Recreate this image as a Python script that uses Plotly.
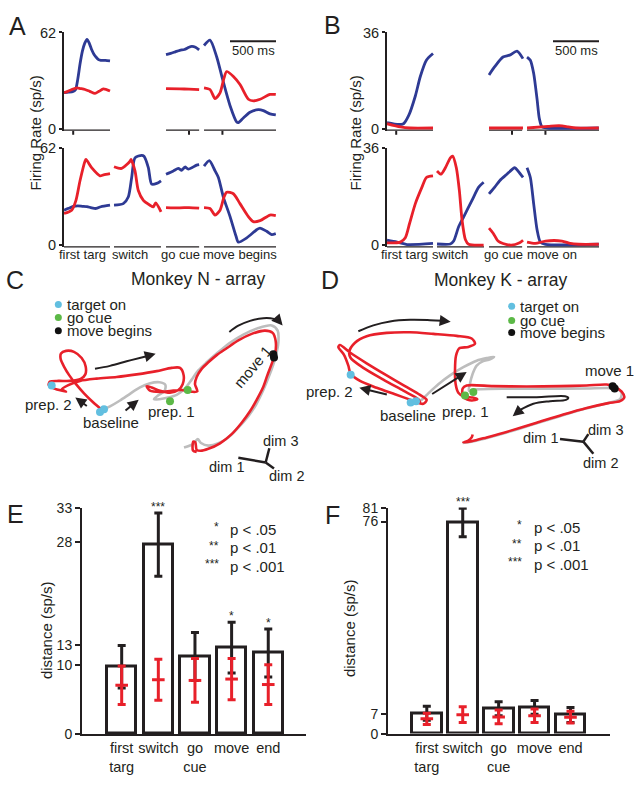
import plotly.graph_objects as go

W, H = 643, 786
FONT = "Liberation Sans, Arial, Helvetica, sans-serif"
INK = "#231f20"
BLUE = "#2e3a94"
RED = "#e8202a"
GRAY = "#bdbdbd"
CYAN = "#62bfe0"
GREEN = "#5cb947"

# ---------------- Panel A / B firing rates: (time ms re event, rate sp/s) ----------------
A_TOP_TARG_BLUE = [(-100, 23.2), (-50, 23.5), (0, 24), (25, 25), (50, 32), (75, 42), (100, 50), (125, 55), (150, 57.5),
                   (175, 55), (200, 51), (225, 48), (250, 46), (275, 44.5), (300, 44), (350, 44), (400, 43.7)]
A_TOP_TARG_RED = [(-100, 23.1), (-60, 24), (-20, 25), (38, 26.3), (80, 25.8), (128, 25.2), (180, 24), (237, 22.7),
                  (280, 24), (328, 25.6), (400, 24.2)]
A_TOP_GO_BLUE = [(-250, 47.7), (-200, 48.5), (-150, 49.5), (-100, 50.5), (-50, 51), (0, 52.5), (30, 53), (70, 52.5), (110, 50.8)]
A_TOP_GO_RED = [(-250, 25.8), (-100, 25.6), (0, 25.4), (110, 25.1)]
A_TOP_MOVE_BLUE = [(-200, 53.6), (-135, 57), (-62, 46.2), (3, 31.5), (83, 14.7), (155, 4.2), (173, 3.8), (230, 7),
                   (300, 10.5), (391, 12.2), (445, 11.6), (517, 9.5), (580, 8.8)]
A_TOP_MOVE_RED = [(-200, 26.3), (-135, 25.2), (-80, 19.3), (-26, 23), (17, 32.6), (46, 36.8), (119, 33.6), (191, 28.4),
                  (282, 18.9), (336, 17.9), (409, 18.9), (517, 22), (580, 22)]

A_BOT_TARG_BLUE = [(-100, 22.3), (-50, 23.5), (0, 24.8), (50, 25), (100, 24.8), (150, 24.6), (200, 23.8), (250, 23.4),
                   (300, 24.5), (400, 25.5)]
A_BOT_TARG_RED = [(-100, 20.2), (-17, 22.3), (30, 28.6), (74, 41.1), (128, 53.6), (139, 54.7), (200, 49.5), (291, 44.3),
                  (330, 44.9), (400, 45.7)]
A_BOT_SWITCH_BLUE = [(-200, 25.5), (-99, 26.5), (-45, 30.7), (-8, 43.2), (28, 55.8), (101, 57.4), (126, 56.8), (173, 49.5),
                     (209, 39), (264, 39.4), (311, 41.1)]
A_BOT_SWITCH_RED = [(-200, 50.1), (-117, 49), (-26, 53.6), (-15, 54.7), (28, 47.4), (64, 34.9), (119, 28.6), (191, 25.5),
                    (227, 24.4), (253, 26.9), (311, 21.3)]
A_BOT_GO_BLUE = [(-250, 45.3), (-170, 47.4), (-116, 49), (-80, 47.8), (-44, 49.9), (-8, 48.5), (82, 51.1), (110, 51.5)]
A_BOT_GO_RED = [(-250, 24), (-100, 23.8), (0, 24), (110, 23.6)]
A_BOT_MOVE_BLUE = [(-200, 50.5), (-142, 54), (-80, 47.4), (-44, 43.2), (10, 30.7), (83, 18.2), (148, 5.6), (173, 1.9),
                   (264, 4.6), (372, 9.8), (408, 10.9), (481, 8.8), (535, 6.7), (580, 7.3)]
A_BOT_MOVE_RED = [(-200, 24), (-135, 23.4), (-80, 19.2), (-26, 22.3), (17, 30.7), (46, 33.8), (119, 32.8), (191, 26.5),
                  (282, 18.2), (336, 15), (409, 15.6), (517, 19.2), (580, 18.8)]

B_TOP_TARG_BLUE = [(-100, 2.2), (27, 1.5), (80, 1.8), (136, 4.9), (208, 12.2), (262, 19.5), (328, 25.6), (400, 28.1)]
B_TOP_TARG_RED = [(-100, 1.8), (45, 0.6), (150, 0.2), (400, 0.2)]
B_TOP_GO_BLUE = [(-250, 20.1), (-188, 23.2), (-98, 26.8), (-26, 27.5), (54, 29), (119, 26.2)]
B_TOP_GO_RED = [(-250, 0.2), (119, 0.2)]
B_TOP_MOVE_BLUE = [(-200, 26.8), (-164, 25.6), (-128, 20.7), (-91, 11), (-66, 3.7), (-37, 0.6), (20, 0.2), (580, 0.2)]
B_TOP_MOVE_RED = [(-200, 0.2), (30, 0.8), (100, 1.0), (180, 1.0), (250, 0.6), (330, 0.2), (580, 0.2)]

B_BOT_TARG_BLUE = [(-100, 1.8), (9, 1.1), (118, 0.2), (400, 0.6)]
B_BOT_TARG_RED = [(-100, 0.8), (45, 1.1), (99, 2.7), (146, 8.1), (208, 15.4), (280, 21.5), (328, 25.1), (400, 25.7)]
B_BOT_SWITCH_BLUE = [(-200, 0.4), (-55, 0.4), (-19, 1.5), (36, 6.9), (90, 10.5), (180, 16.6), (253, 21.5), (307, 23.3)]
B_BOT_SWITCH_RED = [(-200, 27.5), (-157, 26.3), (-109, 28.7), (-55, 32.4), (-30, 33), (10, 28.7), (43, 20.2), (72, 9.3),
                    (108, 2.1), (144, 0.3), (307, 0)]
B_BOT_GO_BLUE = [(-250, 19), (-188, 21.5), (-134, 23.9), (-62, 26.1), (29, 28.7), (65, 27.5), (120, 25.1)]
B_BOT_GO_RED = [(-250, 6.3), (-207, 4.5), (-152, 1.5), (-98, 0.6), (-8, 0), (83, 0.9), (120, 1.8)]
B_BOT_MOVE_BLUE = [(-200, 28.7), (-164, 25.1), (-128, 15.4), (-91, 5.7), (-55, 1.1), (0, 0.3), (580, 0.3)]
B_BOT_MOVE_RED = [(-200, 1.1), (-110, 0.6), (0, 1.5), (180, 1.5), (270, 0.6), (360, 0.3), (580, 0.3)]

A_SEG_LABELS = ["first targ", "switch", "go cue", "move begins"]
B_SEG_LABELS = ["first targ", "switch", "go cue", "move on"]
A_YMAX = 62
B_YMAX = 36

# ---------------- Panels C / D: projected trajectories (projection units) ----------------
C_RED = [(305, 450), (280, 428), (252, 400), (228, 372), (208, 345), (192, 318), (182, 295), (183, 278), (198, 270),
         (222, 273), (245, 292), (257, 318), (256, 342), (242, 356), (210, 362), (175, 362), (150, 364), (146, 374),
         (158, 383), (178, 390), (198, 395), (185, 388), (205, 375), (240, 362), (290, 355), (350, 350), (410, 342),
         (470, 332), (515, 322), (540, 322), (551, 345), (548, 372), (535, 390), (510, 398), (480, 392), (455, 382),
         (440, 378), (450, 392), (480, 396), (515, 392), (545, 390), (575, 395), (592, 394), (585, 372), (590, 350),
         (605, 325), (625, 305), (650, 283), (680, 262), (715, 238), (755, 218), (795, 208), (818, 215), (827, 240),
         (826, 275), (815, 310), (802, 345), (790, 380), (770, 420), (750, 455), (725, 490), (695, 525), (660, 553),
         (625, 570), (602, 576), (590, 573), (586, 550), (580, 548), (579, 575), (590, 580)]
C_GRAY = [(300, 455), (330, 440), (360, 422), (392, 400), (420, 382), (448, 370), (478, 366), (496, 374), (494, 392),
          (475, 406), (462, 418), (478, 418), (505, 413), (530, 405), (555, 385), (575, 358), (595, 330), (620, 305),
          (650, 278), (690, 245), (730, 220), (775, 200), (815, 192), (833, 208), (835, 245), (825, 295), (808, 345),
          (790, 390), (768, 435), (745, 470), (715, 505), (685, 535), (655, 553), (625, 560), (603, 552), (593, 540),
          (580, 555), (552, 566)]
C_TARGET_ON = [(155, 376), (300, 457), (312, 449)]
C_GO_CUE = [(510, 424), (563, 390)]
C_MOVE = [(820, 280), (822, 290)]

D_RED = [(282, 425), (310, 432), (320, 420), (300, 405), (255, 378), (200, 345), (140, 308), (90, 275), (60, 252),
         (55, 258), (72, 282), (85, 315), (92, 340), (120, 362), (170, 383), (225, 403), (272, 420), (300, 430),
         (295, 418), (250, 392), (190, 358), (130, 322), (92, 292), (88, 272), (105, 245), (140, 225), (200, 215),
         (270, 213), (340, 218), (410, 224), (455, 232), (465, 248), (445, 258), (418, 262), (408, 285), (405, 330),
         (407, 372), (415, 398), (432, 410), (458, 413), (472, 418), (455, 422), (430, 412), (428, 385), (440, 376),
         (520, 378), (620, 379), (720, 378), (800, 376), (860, 373), (885, 380), (905, 395), (913, 412), (900, 424),
         (865, 430), (800, 445), (730, 465), (650, 490), (570, 515), (500, 535), (455, 547), (430, 550), (445, 545),
         (455, 535), (458, 526)]
D_GRAY = [(285, 428), (305, 420), (325, 400), (355, 372), (390, 345), (430, 320), (470, 300), (500, 292), (522, 288),
          (510, 296), (488, 302), (470, 315), (458, 340), (450, 370), (447, 392), (470, 388), (560, 386), (680, 386),
          (800, 385), (870, 384), (895, 388), (905, 400), (900, 418), (870, 428), (800, 446), (720, 470), (640, 495),
          (560, 520), (490, 540), (445, 550), (428, 552)]
D_TARGET_ON = [(92, 343), (272, 428), (288, 424)]
D_GO_CUE = [(435, 407), (460, 396)]
D_MOVE = [(878, 378), (884, 385)]

LEGEND_LABELS = ["target on", "go cue", "move begins"]

# ---------------- Panels E / F: distance (sp/s) ----------------
CATEGORIES = ["first<br>targ", "switch", "go<br>cue", "move", "end"]
E_BAR = [9.8, 27.6, 11.3, 12.6, 11.8]
E_BAR_ERR = [3.1, 4.6, 3.5, 3.7, 3.5]
E_RED = [7.1, 7.9, 7.8, 8.0, 7.2]
E_RED_ERR = [2.8, 3.0, 3.2, 3.0, 2.9]
E_STARS = ["", "***", "", "*", "*"]
E_TICKS = [0, 10, 13, 28, 33]

F_BAR = [7.3, 75.7, 8.9, 9.4, 6.7]
F_BAR_ERR = [2.5, 5.1, 2.5, 2.5, 2.7]
F_RED = [5.3, 6.8, 6.0, 6.4, 5.9]
F_RED_ERR = [2.0, 2.8, 2.5, 2.4, 2.1]
F_STARS = ["", "***", "", "", ""]
F_TICKS = [0, 7, 76, 81]

SIG_STARS = ["*", "**", "***"]
SIG_TEXT = ["p < .05", "p < .01", "p < .001"]

# =====================================================================
fig = go.Figure()
annotations = []
shapes = []


def pxx(x):
    return x / W


def pxy(y):
    return 1 - y / H


def xdom(a, b):
    return [a / W, b / W]


def ydom(top, bottom):
    return [1 - bottom / H, 1 - top / H]


def text(x, y, s, size=14, xanchor="center", yanchor="middle", angle=0, xref="paper", yref="paper", color=INK):
    if xref == "paper":
        x = pxx(x)
    if yref == "paper":
        y = pxy(y)
    annotations.append(dict(x=x, y=y, xref=xref, yref=yref, text=s, showarrow=False, borderpad=0,
                            font=dict(size=size, color=color, family=FONT),
                            xanchor=xanchor, yanchor=yanchor, textangle=angle))


def arrow(ax_name, ay_name, x0, y0, x1, y1):
    annotations.append(dict(x=x1, y=y1, ax=x0, ay=y0, xref=ax_name, yref=ay_name, axref=ax_name, ayref=ay_name,
                            showarrow=True, arrowhead=2, arrowsize=1.1, arrowwidth=2, arrowcolor=INK, text=""))


layout_axes = {}

# ---------- time-series panels ----------
SEG_OFF = {"targ": 100, "switch": 743.5, "go": 1358.7, "move": 1721.8}
SEG_SPAN = {"targ": (0, 500), "switch": (543.5, 1054), "go": (1108.7, 1468.7), "move": (1521.8, 2304)}
SEG_ORDER = ["targ", "switch", "go", "move"]
XRANGE = [0, 2304]

ts_panels = [
    (1, (64, 276), (25, 125.4), A_YMAX,
     [("targ", A_TOP_TARG_BLUE, A_TOP_TARG_RED), ("go", A_TOP_GO_BLUE, A_TOP_GO_RED),
      ("move", A_TOP_MOVE_BLUE, A_TOP_MOVE_RED)], ["targ", "go", "move"], ["targ", "go", "move"]),
    (2, (64, 276), (143, 244.4), A_YMAX,
     [("targ", A_BOT_TARG_BLUE, A_BOT_TARG_RED), ("switch", A_BOT_SWITCH_BLUE, A_BOT_SWITCH_RED),
      ("go", A_BOT_GO_BLUE, A_BOT_GO_RED), ("move", A_BOT_MOVE_BLUE, A_BOT_MOVE_RED)], SEG_ORDER, []),
    (3, (387, 599), (25, 125.4), B_YMAX,
     [("targ", B_TOP_TARG_BLUE, B_TOP_TARG_RED), ("go", B_TOP_GO_BLUE, B_TOP_GO_RED),
      ("move", B_TOP_MOVE_BLUE, B_TOP_MOVE_RED)], ["targ", "go", "move"], ["targ", "go", "move"]),
    (4, (387, 599), (143, 244.4), B_YMAX,
     [("targ", B_BOT_TARG_BLUE, B_BOT_TARG_RED), ("switch", B_BOT_SWITCH_BLUE, B_BOT_SWITCH_RED),
      ("go", B_BOT_GO_BLUE, B_BOT_GO_RED), ("move", B_BOT_MOVE_BLUE, B_BOT_MOVE_RED)], SEG_ORDER, []),
]

for idx, (xa, xb), (ya, yb), ymax, series, base_segs, tick_segs in ts_panels:
    sfx = "" if idx == 1 else str(idx)
    ymin = -ymax * 0.0242
    layout_axes["xaxis" + sfx] = dict(domain=xdom(xa, xb), range=XRANGE, visible=False, anchor="y" + sfx,
                                      fixedrange=True)
    layout_axes["yaxis" + sfx] = dict(domain=ydom(ya, yb), range=[ymin, ymax], anchor="x" + sfx,
                                      showline=True, linecolor=INK, linewidth=2, ticks="outside", ticklen=3,
                                      tickwidth=2, tickcolor=INK, tickvals=[0, ymax], showgrid=False,
                                      zeroline=False, tickfont=dict(size=14.5, family=FONT, color=INK),
                                      fixedrange=True)
    for seg, blue, red in series:
        for pairs, col in ((blue, BLUE), (red, RED)):
            fig.add_trace(go.Scatter(x=[t + SEG_OFF[seg] for t, _ in pairs], y=[v for _, v in pairs],
                                     mode="lines", line=dict(color=col, width=2.8, shape="spline", smoothing=0.7),
                                     xaxis="x" + sfx, yaxis="y" + sfx, hoverinfo="skip", showlegend=False))
    for seg in base_segs:
        s0, s1 = SEG_SPAN[seg]
        shapes.append(dict(type="line", xref="x" + sfx, yref="y" + sfx, x0=s0, x1=s1, y0=ymin, y1=ymin,
                           line=dict(color=INK, width=2.5), layer="below"))
    for seg in tick_segs:
        shapes.append(dict(type="line", xref="x" + sfx, yref="paper", x0=SEG_OFF[seg], x1=SEG_OFF[seg],
                           y0=pxy(yb), y1=pxy(yb + 4), line=dict(color=INK, width=2)))

A_LABEL_X = [205, 718, 1270, 1913]
B_LABEL_X = [185, 685, 1261, 1794]
for lab, xv in zip(A_SEG_LABELS, A_LABEL_X):
    text(xv, 252, lab, size=13, xref="x2")
for lab, xv in zip(B_SEG_LABELS, B_LABEL_X):
    text(xv, 252, lab, size=13, xref="x4")

for x0 in (230, 553):
    shapes.append(dict(type="line", xref="paper", yref="paper", x0=pxx(x0), x1=pxx(x0 + 46), y0=pxy(34), y1=pxy(34),
                       line=dict(color=INK, width=2)))
    text(x0 + 23, 43, "500 ms", size=13)

text(35, 128, "Firing Rate (sp/s)", size=15, angle=-90)
text(355, 128, "Firing Rate (sp/s)", size=15, angle=-90)

# ---------- trajectory panels ----------
traj_panels = [
    (5, (0, 320), (0, 960), C_RED, C_GRAY, C_TARGET_ON, C_GO_CUE, C_MOVE),
    (6, (320, 643), (0, 969), D_RED, D_GRAY, D_TARGET_ON, D_GO_CUE, D_MOVE),
]
for idx, (xa, xb), xr, red, gray, ton, goc, mv in traj_panels:
    sfx = str(idx)
    layout_axes["xaxis" + sfx] = dict(domain=xdom(xa, xb), range=list(xr), visible=False, anchor="y" + sfx,
                                      fixedrange=True)
    layout_axes["yaxis" + sfx] = dict(domain=ydom(260, 500), range=[720, 0], visible=False, anchor="x" + sfx,
                                      fixedrange=True)
    for pts, col in ((gray, GRAY), (red, RED)):
        fig.add_trace(go.Scatter(x=[p[0] for p in pts], y=[p[1] for p in pts], mode="lines",
                                 line=dict(color=col, width=2.6, shape="spline", smoothing=0.8),
                                 xaxis="x" + sfx, yaxis="y" + sfx, hoverinfo="skip", showlegend=False))
    for pts, col in ((ton, CYAN), (goc, GREEN), (mv, "#111111")):
        fig.add_trace(go.Scatter(x=[p[0] for p in pts], y=[p[1] for p in pts], mode="markers",
                                 marker=dict(color=col, size=8), xaxis="x" + sfx, yaxis="y" + sfx,
                                 hoverinfo="skip", showlegend=False))

for sfx, lx, ly in (("5", 175, [128, 168, 208]), ("6", 575, [133, 177, 214])):
    fig.add_trace(go.Scatter(x=[lx] * 3, y=ly, mode="markers",
                             marker=dict(color=[CYAN, GREEN, "#111111"], size=7),
                             xaxis="x" + sfx, yaxis="y" + sfx, hoverinfo="skip", showlegend=False))
    for lab, yy in zip(LEGEND_LABELS, ly):
        text(lx + 22, yy, lab, size=15, xanchor="left", xref="x" + sfx, yref="y" + sfx)

CURVES = [
    ("5", [(285, 325), (330, 316), (380, 302), (425, 290), (445, 285)], (445, 285), (467, 279)),
    ("5", [(688, 212), (715, 193), (750, 178), (790, 170), (822, 172), (836, 178)], (836, 178), (848, 192)),
    ("6", [(115, 210), (160, 192), (210, 180), (270, 175), (330, 176), (368, 178)], (368, 178), (392, 181)),
    ("6", [(560, 412), (650, 412), (735, 409), (745, 414), (738, 420), (690, 424), (640, 432), (602, 450)],
     (602, 450), (578, 470)),
]
for sfx, pts, a0, a1 in CURVES:
    fig.add_trace(go.Scatter(x=[p[0] for p in pts], y=[p[1] for p in pts], mode="lines",
                             line=dict(color=INK, width=2, shape="spline"), xaxis="x" + sfx, yaxis="y" + sfx,
                             hoverinfo="skip", showlegend=False))
    arrow("x" + sfx, "y" + sfx, a0[0], a0[1], a1[0], a1[1])

arrow("x5", "y5", 265, 442, 226, 413)
arrow("x5", "y5", 372, 456, 416, 420)
arrow("x6", "y6", 205, 405, 118, 383)
arrow("x6", "y6", 332, 405, 440, 335)

for sfx, c, e1, e3, e2 in (("5", (797, 612), (715, 597), (808, 568), (822, 630)),
                           ("6", (790, 548), (720, 540), (805, 525), (820, 585))):
    xs, ys = [], []
    for e in (e1, e3, e2):
        xs += [c[0], e[0], None]
        ys += [c[1], e[1], None]
    fig.add_trace(go.Scatter(x=xs, y=ys, mode="lines", line=dict(color=INK, width=2.5),
                             xaxis="x" + sfx, yaxis="y" + sfx, hoverinfo="skip", showlegend=False))

text(680, 625, "dim 1", size=14.5, xref="x5", yref="y5")
text(840, 545, "dim 3", size=14.5, xref="x5", yref="y5")
text(860, 652, "dim 2", size=14.5, xref="x5", yref="y5")
text(660, 537, "dim 1", size=14.5, xref="x6", yref="y6")
text(855, 512, "dim 3", size=14.5, xref="x6", yref="y6")
text(840, 612, "dim 2", size=14.5, xref="x6", yref="y6")

text(145, 435, "prep. 2", size=15, xref="x5", yref="y5")
text(333, 490, "baseline", size=15, xref="x5", yref="y5")
text(515, 455, "prep. 1", size=15, xref="x5", yref="y5")
text(758, 318, "move 1", size=15, angle=-50, xref="x5", yref="y5")
text(27, 393, "prep. 2", size=15, xref="x6", yref="y6")
text(265, 468, "baseline", size=15, xref="x6", yref="y6")
text(435, 455, "prep. 1", size=15, xref="x6", yref="y6")
text(945, 330, "move 1", size=15, xanchor="right", xref="x6", yref="y6")

text(198, 277, "Monkey N - array", size=17.5)
text(500, 278, "Monkey K - array", size=17.5)

# ---------- bar panels ----------
bar_panels = [
    (7, (82, 306), (510, 741), 33, [-1.083, 5.03], E_BAR, E_BAR_ERR, E_RED, E_RED_ERR, E_STARS, E_TICKS, 0.8),
    (8, (388, 610), (510, 740.7), 81, [-1.08, 5.1], F_BAR, F_BAR_ERR, F_RED, F_RED_ERR, F_STARS, F_TICKS, 0.83),
]
xs5 = list(range(len(CATEGORIES)))
for idx, (xa, xb), (ya, yb), ymax, xr, bar, berr, red, rerr, stars, ticks, bw in bar_panels:
    sfx = str(idx)
    layout_axes["xaxis" + sfx] = dict(domain=xdom(xa, xb), range=xr, anchor="y" + sfx, showline=True,
                                      linecolor=INK, linewidth=2, tickvals=xs5, ticktext=CATEGORIES, ticks="",
                                      showgrid=False, zeroline=False, fixedrange=True,
                                      tickfont=dict(size=14.5, family=FONT, color=INK))
    layout_axes["yaxis" + sfx] = dict(domain=ydom(ya, yb), range=[0, ymax], anchor="x" + sfx, showline=True,
                                      linecolor=INK, linewidth=2, tickvals=ticks, ticks="outside", ticklen=5,
                                      tickwidth=2, tickcolor=INK, showgrid=False, zeroline=False, fixedrange=True,
                                      tickfont=dict(size=14, family=FONT, color=INK))
    fig.add_trace(go.Bar(x=xs5, y=bar, width=bw, marker=dict(color="white", line=dict(color=INK, width=3)),
                         error_y=dict(type="data", array=berr, color=INK, thickness=3, width=4),
                         xaxis="x" + sfx, yaxis="y" + sfx, hoverinfo="skip", showlegend=False))
    fig.add_trace(go.Scatter(x=xs5, y=red, mode="markers",
                             marker=dict(symbol="line-ew", size=9, line=dict(color=RED, width=3), color=RED),
                             error_y=dict(type="data", array=rerr, color=RED, thickness=3, width=4),
                             xaxis="x" + sfx, yaxis="y" + sfx, hoverinfo="skip", showlegend=False))
    for i, s in enumerate(stars):
        if s:
            annotations.append(dict(x=i, y=bar[i] + berr[i], xref="x" + sfx, yref="y" + sfx, text=s,
                                    showarrow=False, yanchor="bottom", yshift=-2, borderpad=0,
                                    font=dict(size=12, family=FONT, color=INK)))

for (sx, tx, ys) in ((220, 229, [532, 551, 570]), (523, 533, [530, 549, 568])):
    for st, tt, yy in zip(SIG_STARS, SIG_TEXT, ys):
        text(sx, yy - 2, st, size=12, xanchor="right")
        text(tx, yy, tt, size=15, xanchor="left")

text(46, 635, "distance (sp/s)", size=15, angle=-90)
text(349, 633, "distance (sp/s)", size=15, angle=-90)

for lab, x, y in (("A", 17, 18), ("B", 332, 17), ("C", 15, 278), ("D", 330, 278), ("E", 15, 517), ("F", 332, 518)):
    text(x, y, lab, size=25)

fig.update_layout(width=W, height=H, margin=dict(l=0, r=0, t=0, b=0), paper_bgcolor="white",
                  plot_bgcolor="rgba(0,0,0,0)", showlegend=False, annotations=annotations, shapes=shapes,
                  bargap=0, font=dict(family=FONT, color=INK), **layout_axes)
fig.write_html("out.html", config={"displayModeBar": False},
               post_script="document.body.style.margin='0px';document.body.style.overflow='hidden';")
